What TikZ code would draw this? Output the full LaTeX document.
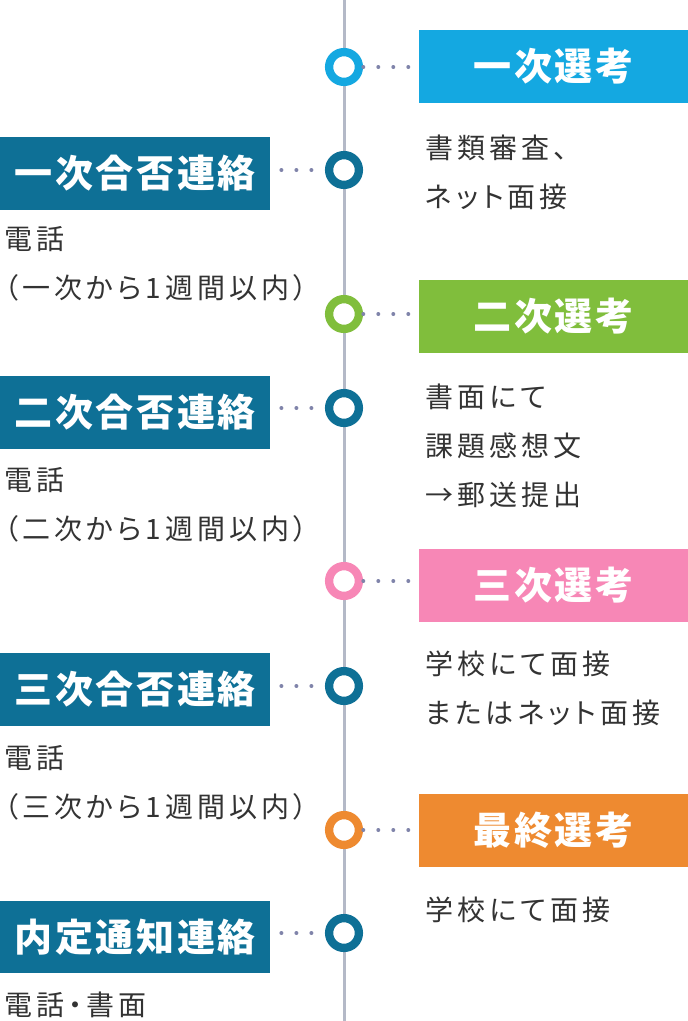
\documentclass[tikz,border=0pt]{standalone}
\usepackage{fontspec}
\newfontfamily\jp[RawFeature=+palt, LetterSpace=14.5]{Noto Sans CJK JP}
\newfontfamily\jph[RawFeature=+palt, LetterSpace=7]{Noto Sans CJK JP}
\definecolor{cBlue}{RGB}{20,168,225}
\definecolor{cDark}{RGB}{14,112,150}
\definecolor{cGreen}{RGB}{128,190,60}
\definecolor{cPink}{RGB}{247,135,182}
\definecolor{cOrange}{RGB}{238,138,48}
\definecolor{cLine}{RGB}{180,185,199}
\definecolor{cDot}{RGB}{128,132,170}
\definecolor{cText}{RGB}{51,51,51}
\begin{document}
\begin{tikzpicture}[x=1pt,y=-1pt,
  ring/.style={circle, draw=#1, line width=8.3pt, fill=white, minimum size=29.8pt, inner sep=0pt},
  headbox/.style={fill=#1, minimum height=72.7pt, inner sep=0pt, anchor=west, text=white,
    font=\jph\bfseries\fontsize{38}{38}\selectfont},
  rbox/.style={headbox=#1, minimum width=269pt},
  lbox/.style={headbox=cDark, minimum width=270pt},
  body/.style={anchor=base west, inner sep=0pt, align=left, text=cText,
    font=\jp\fontsize{28}{49}\selectfont},
  dots/.style={draw=cDot, line width=4pt, line cap=round, dash pattern=on 0pt off 15pt},
]
\useasboundingbox (0,0) rectangle (688,1021);
\fill[white] (0,0) rectangle (688,1021);
% timeline
\coordinate (top) at (344,0);
\coordinate (bot) at (344,1021);
\draw[cLine, line width=3pt] (top) -- (bot);
% boxes
\node[rbox=cBlue]   (b1) at (419,66.4)  {一次選考};
\node[lbox]         (b2) at (0,173.5)   {一次合否連絡};
\node[rbox=cGreen]  (b3) at (419,316.4) {二次選考};
\node[lbox]         (b4) at (0,412.2)   {二次合否連絡};
\node[rbox=cPink]   (b5) at (419,585.5) {三次選考};
\node[lbox]         (b6) at (0,689.5)   {三次合否連絡};
\node[rbox=cOrange] (b7) at (419,830.4) {最終選考};
\node[lbox]         (b8) at (0,937)     {内定通知連絡};
% rings
\node[ring=cBlue]   (c1) at (344,67)  {};
\node[ring=cDark]   (c2) at (344,170) {};
\node[ring=cGreen]  (c3) at (344,314) {};
\node[ring=cDark]   (c4) at (344,408) {};
\node[ring=cPink]   (c5) at (344,581) {};
\node[ring=cDark]   (c6) at (344,686) {};
\node[ring=cOrange] (c7) at (344,830) {};
\node[ring=cDark]   (c8) at (344,933) {};
% dotted leaders
\foreach \i in {1,3,5,7} {
  \draw[dots] ([xshift=19.3pt]c\i.center) -- (c\i.center -| b\i.west);
}
\foreach \i in {2,4,6,8} {
  \draw[dots] ([xshift=11pt]c\i.center -| b\i.east) -- ([xshift=-19pt]c\i.center);
}
% body texts (anchor = baseline of the last line)
\node[body] (t1) at (425,207.6) {書類審査、\\ネット面接};
\node[body] (t2) at (4,298.6)   {電話\\（一次から1週間以内）};
\node[body] (t3) at (425,505.6) {書面にて\\課題感想文\\→郵送提出};
\node[body] (t4) at (4,539.6)   {電話\\（二次から1週間以内）};
\node[body] (t5) at (425,723.1) {学校にて面接\\またはネット面接};
\node[body] (t6) at (4,817.3)   {電話\\（三次から1週間以内）};
\node[body] (t7) at (425,920.6) {学校にて面接};
\node[body] (t8) at (4,1015.6)  {電話・書面};
\end{tikzpicture}
\end{document}
